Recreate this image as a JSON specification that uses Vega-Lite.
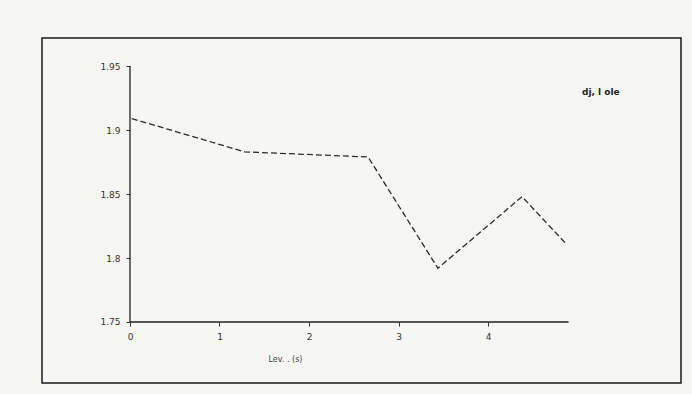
{
  "$schema": "https://vega.github.io/schema/vega-lite/v6.json",
  "width": 639,
  "height": 345,
  "autosize": {"type": "none"},
  "padding": {"left": 42, "top": 38, "right": 11, "bottom": 11},
  "background": "#f6f6f4",
  "config": {
    "view": {"stroke": "#1a1a1a", "strokeWidth": 1.5},
    "font": "DejaVu Sans"
  },
  "datasets": {
    "series": [
      {"x": 0.02, "y": 1.909, "s": "dj, l ole"},
      {"x": 1.28, "y": 1.883, "s": "dj, l ole"},
      {"x": 2.66, "y": 1.879, "s": "dj, l ole"},
      {"x": 3.44, "y": 1.792, "s": "dj, l ole"},
      {"x": 4.38, "y": 1.848, "s": "dj, l ole"},
      {"x": 4.86, "y": 1.812, "s": "dj, l ole"}
    ],
    "axes": [
      {"x": 0, "y": 1.75, "x2": 4.9, "y2": 1.75},
      {"x": 0, "y": 1.75, "x2": 0, "y2": 1.95}
    ]
  },
  "layer": [
    {
      "data": {"name": "axes"},
      "mark": {"type": "rule", "color": "#222", "strokeWidth": 1.3},
      "encoding": {
        "x": {"field": "x", "type": "quantitative", "scale": {"domain": [-0.983, 6.156], "nice": false, "zero": false},
          "axis": {"orient": "bottom", "offset": -61, "domain": false, "values": [0, 1, 2, 3, 4], "format": "d",
            "tickColor": "#333", "tickSize": 4, "labelColor": "#333", "labelFontSize": 9, "labelPadding": 6,
            "title": "Lev. . (s)", "titleFontSize": 8, "titleFontWeight": "normal", "titleColor": "#444",
            "titleX": 243, "titleY": 33, "grid": false}},
        "y": {"field": "y", "type": "quantitative", "scale": {"domain": [1.7023, 1.972], "nice": false, "zero": false},
          "axis": {"orient": "left", "offset": -88, "domain": false, "values": [1.75, 1.8, 1.85, 1.9, 1.95], "format": "~g",
            "tickColor": "#333", "tickSize": 4, "labelColor": "#333", "labelFontSize": 9, "labelPadding": 6,
            "title": null, "grid": false}},
        "x2": {"field": "x2"},
        "y2": {"field": "y2"}
      }
    },
    {
      "data": {"name": "series"},
      "mark": {"type": "line", "strokeWidth": 1.3, "strokeDash": [6, 3]},
      "encoding": {
        "x": {"field": "x", "type": "quantitative"},
        "y": {"field": "y", "type": "quantitative"},
        "color": {"field": "s", "type": "nominal", "scale": {"range": ["#2a2a2a"]},
          "legend": {"orient": "none", "legendX": 531, "legendY": 49, "title": null, "symbolType": "stroke", "symbolSize": 0,
            "symbolOpacity": 0, "symbolStrokeWidth": 0, "labelOffset": 0, "labelFontSize": 9, "labelFontWeight": "bold", "labelColor": "#222", "padding": 0}}
      }
    }
  ]
}
